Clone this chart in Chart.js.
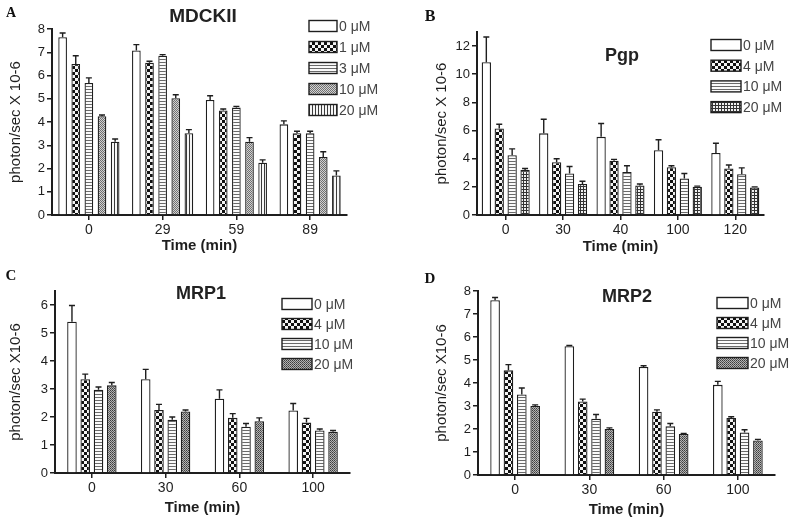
<!DOCTYPE html>
<html><head><meta charset="utf-8">
<script src="https://cdn.jsdelivr.net/npm/chart.js@4"></script>
<style>
html,body{margin:0;padding:0;background:#fff;}
#wrap{position:relative;width:800px;height:525px;overflow:hidden;background:#fff;}
canvas{position:absolute;}
</style></head><body><div id="wrap">
<canvas id="cA" width="400" height="260" style="left:0;top:0"></canvas>
<canvas id="cB" width="400" height="260" style="left:400px;top:0"></canvas>
<canvas id="cC" width="400" height="265" style="left:0;top:260px"></canvas>
<canvas id="cD" width="400" height="265" style="left:400px;top:260px"></canvas>
</div>
<script>
// ---------- Panel A: MDCKII ----------
const aTimes = ['0', '29', '59', '89'];
const aDoses = ['0 μM', '1 μM', '3 μM', '10 μM', '20 μM'];
const aMean0  = [7.65, 7.08, 4.95, 3.90];
const aMean1  = [6.50, 6.55, 4.50, 3.52];
const aMean3  = [5.68, 6.85, 4.62, 3.52];
const aMean10 = [4.25, 5.02, 3.15, 2.50];
const aMean20 = [3.15, 3.52, 2.25, 1.70];
const aErr0  = [0.18, 0.25, 0.18, 0.15];
const aErr1  = [0.35, 0.06, 0.06, 0.08];
const aErr3  = [0.22, 0.05, 0.05, 0.08];
const aErr10 = [0.05, 0.15, 0.18, 0.22];
const aErr20 = [0.12, 0.15, 0.12, 0.20];

// ---------- Panel B: Pgp ----------
const bTimes = ['0', '30', '40', '100', '120'];
const bDoses = ['0 μM', '4 μM', '10 μM', '20 μM'];
const bMean0  = [10.85, 5.80, 5.55, 4.60, 4.40];
const bMean4  = [6.15, 3.75, 3.85, 3.40, 3.30];
const bMean10 = [4.25, 2.95, 3.05, 2.60, 2.90];
const bMean20 = [3.20, 2.20, 2.10, 2.00, 1.95];
const bErr0  = [1.80, 1.00, 0.95, 0.75, 0.70];
const bErr4  = [0.30, 0.25, 0.10, 0.10, 0.25];
const bErr10 = [0.45, 0.50, 0.45, 0.35, 0.45];
const bErr20 = [0.10, 0.20, 0.10, 0.05, 0.05];

// ---------- Panel C: MRP1 ----------
const cTimes = ['0', '30', '60', '100'];
const cDoses = ['0 μM', '4 μM', '10 μM', '20 μM'];
const cMean0  = [5.40, 3.35, 2.65, 2.23];
const cMean4  = [3.35, 2.25, 1.97, 1.80];
const cMean10 = [2.97, 1.90, 1.65, 1.52];
const cMean20 = [3.13, 2.20, 1.85, 1.47];
const cErr0  = [0.58, 0.35, 0.32, 0.25];
const cErr4  = [0.18, 0.20, 0.15, 0.15];
const cErr10 = [0.10, 0.10, 0.12, 0.05];
const cErr20 = [0.10, 0.05, 0.12, 0.05];

// ---------- Panel D: MRP2 ----------
const dTimes = ['0', '30', '60', '100'];
const dDoses = ['0 μM', '4 μM', '10 μM', '20 μM'];
const dMean0  = [7.60, 5.60, 4.70, 3.92];
const dMean4  = [4.55, 3.20, 2.75, 2.48];
const dMean10 = [3.50, 2.45, 2.12, 1.85];
const dMean20 = [3.00, 2.00, 1.78, 1.50];
const dErr0  = [0.12, 0.03, 0.05, 0.15];
const dErr4  = [0.25, 0.10, 0.08, 0.05];
const dErr10 = [0.28, 0.18, 0.12, 0.12];
const dErr20 = [0.05, 0.05, 0.03, 0.05];

const FONT = '"Liberation Sans", Arial, sans-serif';
const SERIF = '"Liberation Serif", "Times New Roman", serif';
const INK = '#1e1e1e';

function pat(kind){
  if (kind === 'white') return '#ffffff';
  const c = document.createElement('canvas');
  const g = c.getContext('2d');
  if (kind === 'checker'){
    c.width = 6; c.height = 6;
    g.fillStyle = '#f4f4f4'; g.fillRect(0,0,6,6);
    g.fillStyle = '#111'; g.fillRect(0,0,3,3); g.fillRect(3,3,3,3);
  } else if (kind === 'hlines'){
    c.width = 4; c.height = 3;
    g.fillStyle = '#fafafa'; g.fillRect(0,0,4,3);
    g.fillStyle = '#6a6a6a'; g.fillRect(0,2,4,1);
  } else if (kind === 'diag'){
    c.width = 4; c.height = 4;
    g.fillStyle = '#d2d2d2'; g.fillRect(0,0,4,4);
    g.fillStyle = '#707070';
    for (let i=0;i<4;i++){ g.fillRect(i,i,1,1); g.fillRect((i+2)%4,i,1,1); }
  } else if (kind === 'vlines'){
    c.width = 3; c.height = 3;
    g.fillStyle = '#f6f6f6'; g.fillRect(0,0,3,3);
    g.fillStyle = '#3a3a3a'; g.fillRect(0,0,1,3);
  } else if (kind === 'grid'){
    c.width = 3; c.height = 3;
    g.fillStyle = '#f0f0f0'; g.fillRect(0,0,3,3);
    g.fillStyle = '#333'; g.fillRect(0,0,3,1); g.fillRect(0,0,1,3);
  } else if (kind === 'stipple'){
    c.width = 2; c.height = 2;
    g.fillStyle = '#b4b4b4'; g.fillRect(0,0,2,2);
    g.fillStyle = '#3c3c3c'; g.fillRect(0,0,1,1);
    g.fillStyle = '#5a5a5a'; g.fillRect(1,1,1,1);
  }
  return g.createPattern(c, 'repeat');
}

const decoPlugin = {
  id: 'deco',
  afterDatasetsDraw(chart){
    const ctx = chart.ctx, y = chart.scales.y;
    const capW = chart.options.plugins.deco.capW;
    ctx.save();
    ctx.strokeStyle = INK; ctx.lineWidth = 1.4;
    chart.data.datasets.forEach((ds, i) => {
      const meta = chart.getDatasetMeta(i);
      meta.data.forEach((el, j) => {
        const top = y.getPixelForValue(ds.data[j] + ds.errors[j]);
        ctx.beginPath();
        ctx.moveTo(el.x, el.y); ctx.lineTo(el.x, top);
        ctx.moveTo(el.x - capW/2, top); ctx.lineTo(el.x + capW/2, top);
        ctx.stroke();
      });
    });
    ctx.restore();
  },
  afterDraw(chart){
    const o = chart.options.plugins.deco;
    const ctx = chart.ctx;
    ctx.save();
    ctx.fillStyle = '#111';
    ctx.font = 'bold ' + o.letter.size + 'px ' + SERIF;
    ctx.textAlign = 'center'; ctx.textBaseline = 'middle';
    ctx.fillText(o.letter.text, o.letter.x, o.letter.y);
    ctx.fillStyle = '#222';
    ctx.font = 'bold ' + o.title.size + 'px ' + FONT;
    ctx.fillText(o.title.text, o.title.x, o.title.y);
    const lg = o.legend;
    ctx.textAlign = 'left';
    ctx.font = lg.size + 'px ' + FONT;
    chart.data.datasets.forEach((ds, i) => {
      const cy = lg.y0 + i * lg.pitch;
      ctx.fillStyle = ds.backgroundColor;
      ctx.fillRect(lg.x, cy - lg.bh/2, lg.bw, lg.bh);
      ctx.strokeStyle = INK; ctx.lineWidth = 1.4;
      ctx.strokeRect(lg.x, cy - lg.bh/2, lg.bw, lg.bh);
      ctx.fillStyle = '#444';
      ctx.fillText(ds.label, lg.x + lg.bw + 2, cy + 1);
    });
    ctx.restore();
  }
};

function makePanel(id, p){
  const datasets = p.doses.map((d, i) => ({
    label: d, data: p.means[i], errors: p.errs[i],
    backgroundColor: pat(p.fills[i]), borderColor: INK, borderWidth: 1.3,
    categoryPercentage: p.catPct, barPercentage: p.barPct
  }));
  return new Chart(document.getElementById(id), {
    type: 'bar',
    data: { labels: p.cats, datasets },
    plugins: [decoPlugin],
    options: {
      responsive: false, animation: false, devicePixelRatio: 1,
      layout: { padding: { left: p.yTitleX - 9, right: p.W - p.R, top: p.T, bottom: p.H - (p.xTitleY + 9) } },
      plugins: {
        legend: { display: false }, tooltip: { enabled: false },
        deco: { capW: 6, letter: p.letter, title: p.title, legend: p.legend }
      },
      scales: {
        x: {
          grid: { display: true, drawOnChartArea: false, drawTicks: true, tickLength: 5, color: INK, lineWidth: 1.5, offset: false },
          border: { display: true, color: INK, width: 2 },
          ticks: { color: INK, font: { family: FONT, size: 14 }, padding: 2, maxRotation: 0 },
          title: { display: true, text: 'Time (min)', color: INK, font: { family: FONT, size: 15, weight: 'bold' }, padding: 0 },
          afterFit(s){ s.height = p.xTitleY + 9 - p.B; }
        },
        y: {
          min: 0, max: p.ymax,
          ticks: { stepSize: p.step, color: INK, font: { family: FONT, size: 13 }, padding: 2 },
          afterBuildTicks(s){
            const t = [];
            for (let v = 0; v <= p.ymax + 1e-9; v += p.step) t.push({ value: v });
            s.ticks = t;
          },
          grid: { display: true, drawOnChartArea: false, drawTicks: true, tickLength: 5, color: INK, lineWidth: 1.5 },
          border: { display: true, color: INK, width: 2 },
          title: { display: true, text: p.yTitle, color: INK, font: { family: FONT, size: 15 }, padding: 0 },
          afterFit(s){ s.width = p.L - (p.yTitleX - 9); }
        }
      }
    }
  });
}

makePanel('cA', {
  W: 400, H: 260, L: 52, R: 347, T: 29, B: 215, yTitleX: 16, xTitleY: 246,
  ymax: 8, step: 1, cats: aTimes, doses: aDoses,
  means: [aMean0, aMean1, aMean3, aMean10, aMean20],
  errs: [aErr0, aErr1, aErr3, aErr10, aErr20],
  fills: ['white', 'checker', 'hlines', 'diag', 'vlines'],
  catPct: 0.89, barPct: 0.66, yTitle: 'photon/sec X 10-6',
  letter: { text: 'A', x: 11, y: 13, size: 14 },
  title: { text: 'MDCKII', x: 203, y: 17, size: 19 },
  legend: { x: 309, bw: 28, bh: 11, y0: 26, pitch: 21, size: 14 }
});
makePanel('cB', {
  W: 400, H: 260, L: 77, R: 364, T: 32, B: 215, yTitleX: 42, xTitleY: 247,
  ymax: 13, step: 2, cats: bTimes, doses: bDoses,
  means: [bMean0, bMean4, bMean10, bMean20],
  errs: [bErr0, bErr4, bErr10, bErr20],
  fills: ['white', 'checker', 'hlines', 'grid'],
  catPct: 0.9, barPct: 0.72, yTitle: 'photon/sec X 10-6',
  letter: { text: 'B', x: 30, y: 17, size: 16 },
  title: { text: 'Pgp', x: 222, y: 56, size: 18 },
  legend: { x: 311, bw: 30, bh: 11, y0: 45, pitch: 20.7, size: 14 }
});
makePanel('cC', {
  W: 400, H: 265, L: 55, R: 350, T: 31, B: 213, yTitleX: 16, xTitleY: 248,
  ymax: 6.5, step: 1, cats: cTimes, doses: cDoses,
  means: [cMean0, cMean4, cMean10, cMean20],
  errs: [cErr0, cErr4, cErr10, cErr20],
  fills: ['white', 'checker', 'hlines', 'stipple'],
  catPct: 0.72, barPct: 0.72, yTitle: 'photon/sec X10-6',
  letter: { text: 'C', x: 11, y: 16, size: 15 },
  title: { text: 'MRP1', x: 201, y: 34, size: 18 },
  legend: { x: 282, bw: 30, bh: 11, y0: 44, pitch: 20, size: 14 }
});
makePanel('cD', {
  W: 400, H: 265, L: 78, R: 375, T: 31, B: 215, yTitleX: 42, xTitleY: 250,
  ymax: 8, step: 1, cats: dTimes, doses: dDoses,
  means: [dMean0, dMean4, dMean10, dMean20],
  errs: [dErr0, dErr4, dErr10, dErr20],
  fills: ['white', 'checker', 'hlines', 'stipple'],
  catPct: 0.72, barPct: 0.72, yTitle: 'photon/sec X10-6',
  letter: { text: 'D', x: 30, y: 19, size: 15 },
  title: { text: 'MRP2', x: 227, y: 37, size: 18 },
  legend: { x: 317, bw: 31, bh: 11, y0: 43, pitch: 20, size: 14 }
});
</script>
</body></html>
